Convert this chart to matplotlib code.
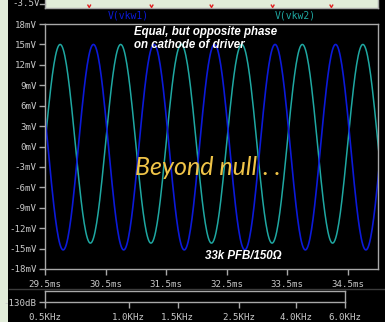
import numpy as np
import matplotlib
matplotlib.use("Agg")
import matplotlib.pyplot as plt
from matplotlib.patches import Rectangle
from matplotlib.lines import Line2D

# ---------------- data ----------------
# extrema of the two traces (time in ms, value in mV)
teal_ext_times = [29.25, 29.75, 30.25, 30.75, 31.25, 31.75, 32.25, 32.75,
                  33.25, 33.75, 34.25, 34.75, 35.25]
teal_ext_vals = [-14.2, 15.0, -14.2, 15.0, -14.2, 15.0, -14.2, 15.0,
                 -14.2, 15.0, -14.2, 15.0, -14.2]
blue_ext_times = [29.30, 29.80, 30.30, 30.80, 31.30, 31.80, 32.30, 32.80,
                  33.30, 33.80, 34.30, 34.80, 35.30]
blue_ext_vals = [15.0, -15.2, 15.0, -15.2, 15.0, -15.2, 15.0, -15.2,
                 15.0, -15.2, 15.0, -15.2, 15.0]
# minima of the (mostly hidden) red trace in the top pane
red_min_times = [30.23, 31.26, 32.25, 33.26, 34.23]
red_min_val = -3.69

y_ticks = [18, 15, 12, 9, 6, 3, 0, -3, -6, -9, -12, -15, -18]
y_labels = [f"{v}mV" for v in y_ticks]
x_ticks = [29.5, 30.5, 31.5, 32.5, 33.5, 34.5]
x_labels = ["29.5ms", "30.5ms", "31.5ms", "32.5ms", "33.5ms", "34.5ms"]
f_ticks = [0.5, 1.0, 1.5, 2.5, 4.0, 6.0]
f_labels = ["0.5KHz", "1.0KHz", "1.5KHz", "2.5KHz", "4.0KHz", "6.0KHz"]

# ---------------- style ----------------
W, H = 385, 322
BG_GREEN = "#e1ecd9"
GRID = "#a8a8a8"
TXT = "#c8c8c8"
BLUE = "#0c1ad8"
TEAL = "#1fa8a2"
MONO = "DejaVu Sans Mono"
FS = 6.6

fig = plt.figure(figsize=(W / 100, H / 100), dpi=100)
fig.patch.set_facecolor(BG_GREEN)


def px_axes(x0, y0, x1, y1, **kw):
    return fig.add_axes([x0 / W, 1 - y1 / H, (x1 - x0) / W, (y1 - y0) / H], **kw)


def fx(x):
    return x / W


def fy(y):
    return 1 - y / H


# black background
fig.patches.append(Rectangle((fx(8), 0), 1 - fx(8), 1, transform=fig.transFigure,
                             facecolor="black", edgecolor="none", zorder=-10))
# top pane interior (light)
fig.patches.append(Rectangle((fx(45), fy(8)), fx(378) - fx(45), 1 - fy(8),
                             transform=fig.transFigure, facecolor=BG_GREEN,
                             edgecolor="none", zorder=-9))
# top pane border lines
for xs, ys in [([45, 378], [8, 8]), ([378, 378], [8, 0]), ([45, 45], [8, 0])]:
    fig.lines.append(Line2D([fx(v) for v in xs], [fy(v) for v in ys],
                            transform=fig.transFigure, color=GRID, lw=1, zorder=-8))
# pane separator at bottom
fig.lines.append(Line2D([fx(9), 1], [fy(289), fy(289)], transform=fig.transFigure,
                        color="#3c3c3c", lw=1, zorder=-8))


def style_axes(ax):
    ax.set_facecolor("none")
    for s in ax.spines.values():
        s.set_color(GRID)
        s.set_linewidth(1)
    ax.tick_params(colors=GRID, labelcolor=TXT, length=4, width=1, direction="out",
                   labelsize=FS, pad=2)
    for lab in ax.get_xticklabels() + ax.get_yticklabels():
        lab.set_fontfamily(MONO)


def through_extrema(times, vals, n=40):
    ts, vs = [], []
    for i in range(len(times) - 1):
        t0, t1 = times[i], times[i + 1]
        v0, v1 = vals[i], vals[i + 1]
        u = np.linspace(0, 1, n)
        ts.append(t0 + (t1 - t0) * u)
        vs.append((v0 + v1) / 2 + (v0 - v1) / 2 * np.cos(np.pi * u))
    return np.concatenate(ts), np.concatenate(vs)


# ---------------- top pane (red trace minima) ----------------
axt = px_axes(45, 0, 378, 8)
axt.set_facecolor("none")
axt.set_xlim(29.5, 35.0)
axt.set_ylim(-3.72, -3.30)
for t in red_min_times:
    axt.plot([t - 0.022, t, t + 0.022], [-3.57, red_min_val, -3.57],
             color="#e02020", lw=1)
for s in axt.spines.values():
    s.set_visible(False)
axt.set_xticks([])
axt.set_yticks([])
fig.text(fx(40), fy(4), "-3.5V", color=TXT, fontfamily=MONO, fontsize=FS,
         ha="right", va="center")
fig.lines.append(Line2D([fx(40), fx(45)], [fy(4), fy(4)], transform=fig.transFigure,
                        color=GRID, lw=1))

# ---------------- main pane ----------------
ax = px_axes(45, 24, 378, 269)
ax.set_xlim(29.5, 35.0)
ax.set_ylim(-18, 18)
tt, tv = through_extrema(teal_ext_times, teal_ext_vals)
bt, bv = through_extrema(blue_ext_times, blue_ext_vals)
ax.plot(tt, tv, color=TEAL, lw=1.1)
ax.plot(bt, bv, color=BLUE, lw=1.2)
ax.set_yticks(y_ticks)
ax.set_yticklabels(y_labels)
ax.set_xticks(x_ticks)
ax.set_xticklabels(x_labels)
style_axes(ax)
ax.tick_params(axis="x", pad=4)

fig.text(fx(128), fy(16), "V(vkw1)", color=BLUE, fontfamily=MONO, fontsize=7,
         ha="center", va="center")
fig.text(fx(295), fy(16), "V(vkw2)", color=TEAL, fontfamily=MONO, fontsize=7,
         ha="center", va="center")

ax.text(0.268, 0.992, "Equal, but opposite phase\non cathode of driver",
        transform=ax.transAxes, color="white", fontfamily="Liberation Sans",
        fontweight="bold", fontstyle="italic", fontsize=8.3, ha="left", va="top",
        linespacing=1.15)
ax.text(0.49, 0.415, "Beyond null . .", transform=ax.transAxes, color="#f0c448",
        fontfamily="Lato", fontstyle="italic", fontsize=18, ha="center",
        va="center")
ax.text(0.48, 0.055, "33k PFB/150Ω", transform=ax.transAxes, color="white",
        fontfamily="Liberation Sans", fontweight="bold", fontstyle="italic",
        fontsize=8.3, ha="left", va="center")

# ---------------- bottom pane ----------------
axb = px_axes(45, 291, 345, 302)
axb.set_xscale("log")
axb.set_xlim(0.5, 6.0)
axb.set_ylim(-130, -120)
axb.set_xticks(f_ticks)
axb.set_xticklabels(f_labels)
axb.xaxis.set_minor_locator(matplotlib.ticker.NullLocator())
axb.set_yticks([-130])
axb.set_yticklabels(["-130dB"])
style_axes(axb)
axb.tick_params(axis="x", pad=4)

fig.savefig("out.png", dpi=100, facecolor=fig.get_facecolor())
